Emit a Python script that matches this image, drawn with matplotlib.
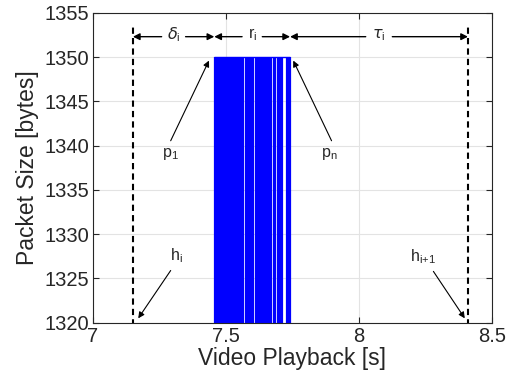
import matplotlib
matplotlib.use("Agg")
import matplotlib.pyplot as plt
import numpy as np

plt.rcParams['font.family'] = ['Liberation Sans', 'DejaVu Sans']

# packet arrival times (s) within the burst, all packets 1350 bytes
packet_times = [7.458, 7.462, 7.466, 7.470, 7.474,
                7.483, 7.487, 7.491, 7.495, 7.499, 7.503, 7.507, 7.511, 7.515, 7.519, 7.523,
                7.532, 7.536, 7.540, 7.544,
                7.553, 7.557, 7.561, 7.565,
                7.574, 7.578, 7.582, 7.586, 7.590, 7.594, 7.598, 7.602,
                7.614, 7.618, 7.622, 7.626, 7.630, 7.634, 7.638, 7.642, 7.646, 7.650,
                7.654, 7.658, 7.662, 7.666, 7.670,
                7.679, 7.683,
                7.697, 7.701, 7.705, 7.709,
                7.731, 7.735, 7.739]
packet_size = 1350
h_i = 7.15
h_next = 8.41
p_1 = 7.456
p_n = 7.741

xticks = [7, 7.5, 8, 8.5]
xticklabels = ['7', '7.5', '8', '8.5']
yticks = [1320, 1325, 1330, 1335, 1340, 1345, 1350, 1355]

fig = plt.figure(figsize=(5.14, 3.87), dpi=100)
ax = fig.add_axes([0.181, 0.166, 0.776, 0.801])

ax.vlines(packet_times, 1300, packet_size, color='#0000ff', lw=1.6)
ax.hlines(packet_size, p_1, p_n, color='#0000ff', lw=1.0)

ax.vlines([h_i, h_next], 1300, 1353.6, color='k', lw=1.5, linestyles=(0, (3, 2)))

# interval arrows
arr_y = 1352.3
segs = [(h_i, p_1, r'$\delta_{\mathregular{i}}$', 0.045),
        (p_1, p_n, r'r$_{\mathregular{i}}$', 0.038),
        (p_n, h_next, r'$\tau_{\mathregular{i}}$', 0.05)]
for a, b, lab, g in segs:
    m = (a + b) / 2
    ax.annotate('', xy=(a, arr_y), xytext=(m - g, arr_y),
                arrowprops=dict(arrowstyle='-|>', color='k', lw=1.0, mutation_scale=10,
                                shrinkA=0, shrinkB=0))
    ax.annotate('', xy=(b, arr_y), xytext=(m + g, arr_y),
                arrowprops=dict(arrowstyle='-|>', color='k', lw=1.0, mutation_scale=10,
                                shrinkA=0, shrinkB=0))
    ax.text(m, arr_y + 0.2, lab, ha='center', va='center', fontsize=11.5, color='#262626')

thin = dict(arrowstyle='-|>', color='k', lw=0.8, mutation_scale=9, shrinkA=0, shrinkB=0)
ax.annotate('', xy=(7.436, 1349.6), xytext=(7.292, 1340.55), arrowprops=thin)
ax.text(7.29, 1339.0, r'p$_{\mathregular{1}}$', ha='center', va='center', fontsize=11.5, color='#262626')
ax.annotate('', xy=(7.753, 1349.6), xytext=(7.897, 1340.55), arrowprops=thin)
ax.text(7.89, 1339.0, r'p$_{\mathregular{n}}$', ha='center', va='center', fontsize=11.5, color='#262626')
ax.annotate('', xy=(7.17, 1320.5), xytext=(7.292, 1325.9), arrowprops=thin)
ax.text(7.315, 1327.6, r'h$_{\mathregular{i}}$', ha='center', va='center', fontsize=11.5, color='#262626')
ax.annotate('', xy=(8.398, 1320.5), xytext=(8.28, 1325.8), arrowprops=thin)
ax.text(8.24, 1327.5, r'h$_{\mathregular{i{+}1}}$', ha='center', va='center', fontsize=11.5, color='#262626')

ax.set_xlim(7, 8.5)
ax.set_ylim(1320, 1355)
ax.set_xticks(xticks)
ax.set_xticklabels(xticklabels)
ax.set_yticks(yticks)
ax.grid(True, color='#e3e3e3', lw=0.8)
ax.set_axisbelow(True)
ax.tick_params(direction='in', length=4, width=0.8, top=True, right=True,
               labelsize=14.5, colors='#262626', pad=3)
for s in ax.spines.values():
    s.set_color('#262626')
    s.set_linewidth(0.8)
ax.set_xlabel('Video Playback [s]', fontsize=16.5, color='#262626', labelpad=1)
ax.set_ylabel('Packet Size [bytes]', fontsize=16.5, color='#262626', labelpad=4)

fig.savefig('out.png', dpi=100)
